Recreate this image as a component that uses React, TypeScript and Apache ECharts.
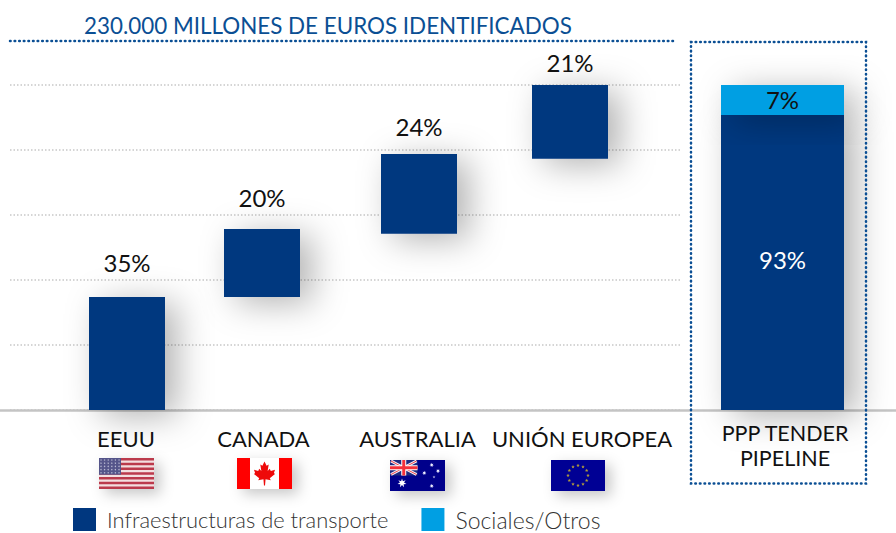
import React, { useEffect, useRef } from "react";
import * as echarts from "echarts";

const categories = ["EEUU", "CANADA", "AUSTRALIA", "UNIÓN EUROPEA", "PPP TENDER\nPIPELINE"];
const regionBottoms = [0, 34.8, 54.2, 77.3];
const regionHeights = [34.8, 20.9, 24.6, 22.9];
const regionShares = ["35%", "20%", "24%", "21%"];
const pipelineTransport = [90.8];
const pipelineSocial = [9.2];
const pipelineShares = ["93%", "7%"];
const seriesNames = ["Infraestructuras de transporte", "Sociales/Otros"];
const titleText = "230.000 MILLONES DE EUROS IDENTIFICADOS";

// layout of the unevenly spaced columns, in page pixels
const columnCentres = [127, 262, 419, 570, 782.5];
const labelCentres = [126, 263.5, 417.5, 582, 785];
const columnWidths = [76, 76, 76, 76, 123];
const shareGaps = [34, 31, 27, 23];

const NAVY = "#00377f";
const CYAN = "#009fe3";
const DOT = "#0b4f94";
const FONT = "Lato, sans-serif";
const barShadow = { shadowBlur: 34, shadowOffsetX: 12, shadowOffsetY: 6, shadowColor: "rgba(0,0,0,0.3)" };

const star = (cx: number, cy: number, r: number, fill: string, n = 5) => {
  const points: number[][] = [];
  for (let i = 0; i < n * 2; i++) {
    const rad = i % 2 ? r * 0.45 : r;
    const a = -Math.PI / 2 + (i * Math.PI) / n;
    points.push([cx + rad * Math.cos(a), cy + rad * Math.sin(a)]);
  }
  return { type: "polygon", shape: { points }, style: { fill } };
};
const flagBack = (w: number, h: number, fill: string) => ({
  type: "rect",
  shape: { x: 0, y: 0, width: w, height: h },
  style: { fill, shadowBlur: 14, shadowOffsetX: 6, shadowOffsetY: 5, shadowColor: "rgba(0,0,0,0.22)" },
});

const usFlag = () => {
  const w = 55, h = 31;
  const kids: any[] = [flagBack(w, h, "#f3dfe0")];
  for (let i = 0; i < 7; i++) {
    kids.push({ type: "rect", shape: { x: 0, y: (i * 2 * h) / 13, width: w, height: h / 13 }, style: { fill: "#bb3a4c" } });
  }
  kids.push({ type: "rect", shape: { x: 0, y: 0, width: 22, height: 16.7 }, style: { fill: "#55558a" } });
  for (let r = 0; r < 5; r++) for (let c = 0; c < 6; c++) {
    kids.push({ type: "circle", shape: { cx: 2 + c * 3.6, cy: 2 + r * 3.2, r: 0.7 }, style: { fill: "#b9b9d2" } });
  }
  return { type: "group", x: 99, y: 458, children: kids };
};

const caFlag = () => {
  const leaf = [[0,-11],[-2,-7],[-4,-8],[-3,-2],[-5,-4],[-6,-2],[-10,-3],[-9,0],[-10,1],[-5,5],[-6,7],[-1,6],[-0.5,12],[0.5,12],[1,6],[6,7],[5,5],[10,1],[9,0],[10,-3],[6,-2],[5,-4],[3,-2],[4,-8],[2,-7]]
    .map(([x, y]) => [27.5 + x * 1.05, 15 + y * 1.05]);
  return {
    type: "group", x: 237, y: 458,
    children: [
      flagBack(55, 31, "#ffffff"),
      { type: "rect", shape: { x: 0, y: 0, width: 13, height: 31 }, style: { fill: "#ff0000" } },
      { type: "rect", shape: { x: 42, y: 0, width: 13, height: 31 }, style: { fill: "#ff0000" } },
      { type: "polygon", shape: { points: leaf }, style: { fill: "#ee0a0a" } },
    ],
  };
};

const auFlag = () => {
  const w = 27.5, h = 15.5;
  const ln = (x1: number, y1: number, x2: number, y2: number, stroke: string, lineWidth: number) => ({
    type: "line", shape: { x1, y1, x2, y2 }, style: { stroke, lineWidth },
  });
  return {
    type: "group", x: 390, y: 460,
    children: [
      flagBack(55, 31, "#00008b"),
      { type: "rect", shape: { x: 0, y: 0, width: w, height: h }, style: { fill: "#1f2a80" } },
      ln(1, 1, w - 1, h - 1, "#f2f2f8", 3), ln(1, h - 1, w - 1, 1, "#f2f2f8", 3),
      ln(1, 1, w - 1, h - 1, "#f0404a", 1), ln(1, h - 1, w - 1, 1, "#f0404a", 1),
      ln(w / 2, 0, w / 2, h, "#ffffff", 5), ln(0, h / 2, w, h / 2, "#ffffff", 5),
      ln(w / 2, 0, w / 2, h, "#f4303a", 3), ln(0, h / 2, w, h / 2, "#f4303a", 3),
      star(12, 23, 4.6, "#ffffff", 7),
      star(41.7, 5, 2.2, "#eeeeff", 7),
      star(48, 11, 2.2, "#eeeeff", 7),
      star(34.3, 13, 2.2, "#eeeeff", 7),
      star(44, 17, 1.5, "#aaaadd", 5),
      star(41.7, 26, 2.2, "#eeeeff", 7),
    ],
  };
};

const euFlag = () => {
  const kids: any[] = [flagBack(54, 31, "#000094")];
  for (let i = 0; i < 12; i++) {
    const a = (i * Math.PI) / 6;
    kids.push(star(27 + 10 * Math.cos(a), 15.5 + 10 * Math.sin(a), 1.8, "#b09a3c"));
  }
  return { type: "group", x: 551, y: 460, children: kids };
};

export default function App() {
  const ref = useRef<HTMLDivElement>(null);
  useEffect(() => {
    const chart = echarts.init(ref.current!, undefined, { renderer: "svg" });
    const COL = 200; // width of each one-column grid
    const TOP = 85, BOTTOM = 123;

    // grid 0: dotted gridlines; grid 1: full-width baseline; grids 2..6: one column each
    const grids: any[] = [
      { left: 10, right: 216, top: TOP, bottom: BOTTOM },
      { left: 0, right: 0, top: TOP, bottom: BOTTOM },
      ...columnCentres.map((c) => ({ left: c - COL / 2, width: COL, top: TOP, bottom: BOTTOM })),
    ];
    const hiddenValueX = (gridIndex: number, axisLineShow = false) => ({
      type: "value", gridIndex, min: 0, max: 100,
      axisLabel: { show: false }, axisTick: { show: false }, splitLine: { show: false },
      axisLine: { show: axisLineShow, onZero: false, lineStyle: { color: "#c4c4c4", width: 2.5 } },
    });
    const xAxes: any[] = [
      hiddenValueX(0),
      hiddenValueX(1, true),
      ...categories.map((name, i) => {
        const shift = labelCentres[i] - columnCentres[i];
        const pad = [name.includes("\n") ? 0 : 12, shift < 0 ? -2 * shift : 0, 0, shift > 0 ? 2 * shift : 0];
        return {
          type: "category", gridIndex: i + 2, data: [name],
          axisLine: { show: false }, axisTick: { show: false }, splitLine: { show: false },
          axisLabel: {
            show: true, interval: 0, margin: 10, verticalAlign: "top",
            formatter: (v: string) => v.split("\n").map((s) => `{t|${s}}`).join("\n"),
            rich: {
              t: {
                fontFamily: FONT, color: "#111111", lineHeight: 25,
                fontSize: name.includes("\n") ? 21.5 : 22, padding: pad,
              },
            },
          },
        };
      }),
    ];
    const yAxes: any[] = [
      {
        type: "value", gridIndex: 0, min: 0, max: 100, interval: 20,
        axisLabel: { show: false }, axisLine: { show: false }, axisTick: { show: false },
        splitLine: { show: true, lineStyle: { color: "#c8c8c8", type: [1.5, 2], width: 1.5 } },
      },
      { type: "value", gridIndex: 1, min: 0, max: 100, show: false, splitLine: { show: false } },
      ...categories.map((_, i) => ({
        type: "value", gridIndex: i + 2, min: 0, max: 100, show: false, splitLine: { show: false },
      })),
    ];

    const regionSeries = regionHeights.flatMap((height, i) => [
      {
        name: "base", type: "bar", stack: `c${i}`, xAxisIndex: i + 2, yAxisIndex: i + 2,
        barWidth: columnWidths[i], silent: true,
        data: [regionBottoms[i]], itemStyle: { color: "transparent" },
      },
      {
        name: seriesNames[0], type: "bar", stack: `c${i}`, xAxisIndex: i + 2, yAxisIndex: i + 2,
        barWidth: columnWidths[i], z: 3,
        data: [height], itemStyle: { color: NAVY, ...barShadow },
        label: {
          show: true, position: "top", distance: shareGaps[i], verticalAlign: "middle",
          fontFamily: FONT, fontSize: 24, color: "#111111", formatter: () => regionShares[i],
        },
      },
    ]);
    const p = regionHeights.length;
    const pipelineSeries = [
      {
        name: seriesNames[0], type: "bar", stack: "ppp", xAxisIndex: p + 2, yAxisIndex: p + 2,
        barWidth: columnWidths[p], z: 3,
        data: pipelineTransport, itemStyle: { color: NAVY, ...barShadow },
        label: {
          show: true, position: "inside", offset: [0, -3], fontFamily: FONT, fontSize: 24, color: "#ffffff",
          formatter: () => pipelineShares[0],
        },
      },
      {
        name: seriesNames[1], type: "bar", stack: "ppp", xAxisIndex: p + 2, yAxisIndex: p + 2,
        barWidth: columnWidths[p], z: 3,
        data: pipelineSocial, itemStyle: { color: CYAN, ...barShadow },
        label: {
          show: true, position: "inside", fontFamily: FONT, fontSize: 24, color: "#111111",
          formatter: () => pipelineShares[1],
        },
      },
    ];

    chart.setOption({
      animation: false,
      backgroundColor: "#ffffff",
      textStyle: { fontFamily: FONT },
      title: {
        text: titleText, left: 79, top: 9,
        textStyle: { fontFamily: FONT, fontSize: 22.4, fontWeight: 400, color: "#0b4f94" },
      },
      legend: {
        left: 68, top: 503, itemWidth: 23, itemHeight: 23, itemGap: 33,
        data: [
          { name: seriesNames[0] },
          { name: seriesNames[1], textStyle: { fontSize: 23 } },
        ],
        icon: "rect",
        itemStyle: { shadowBlur: 0, shadowOffsetX: 0, shadowOffsetY: 0 },
        textStyle: { fontFamily: FONT, fontSize: 21.9, fontWeight: 300, color: "#333333", padding: [0, 0, 0, 6], lineHeight: 20 },
      },
      grid: grids,
      xAxis: xAxes,
      yAxis: yAxes,
      series: [...regionSeries, ...pipelineSeries],
      graphic: [
        {
          type: "line", z: 5, shape: { x1: 10, y1: 41, x2: 675, y2: 41 },
          style: { stroke: DOT, lineWidth: 2.5, lineDash: [0.6, 4], lineCap: "round" },
        },
        {
          type: "rect", z: 5, shape: { x: 691, y: 42, width: 175, height: 441.5 },
          style: { fill: "none", stroke: DOT, lineWidth: 2.5, lineDash: [0.6, 4], lineCap: "round" },
        },
        usFlag(), caFlag(), auFlag(), euFlag(),
      ],
    });
    return () => chart.dispose();
  }, []);
  return <div ref={ref} style={{ position: "fixed", left: 0, top: 0, width: 896, height: 533 }} />;
}
